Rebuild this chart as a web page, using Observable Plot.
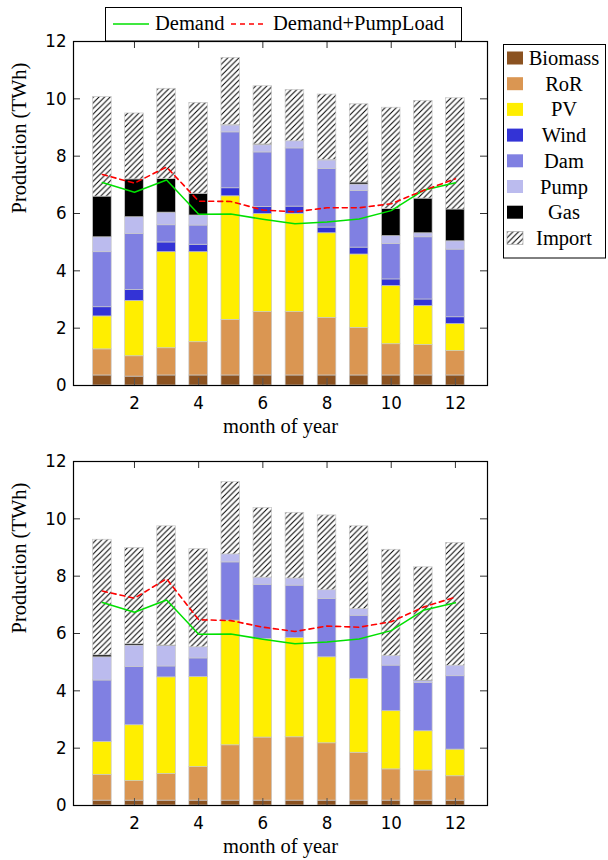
<!DOCTYPE html>
<html>
<head>
<meta charset="utf-8">
<script src="https://cdn.jsdelivr.net/npm/d3@7"></script>
<script src="https://cdn.jsdelivr.net/npm/@observablehq/plot@0.6"></script>
<style>
  html, body { margin: 0; padding: 0; background: white; }
  #wrap { position: relative; width: 608px; height: 860px; }
  #wrap > svg.plotsvg { position: absolute; left: 0; }
  #overlay { position: absolute; left: 0; top: 0; pointer-events: none; }
</style>
</head>
<body>
<div id="wrap"></div>
<script>
// ---------- data ----------
const months = [1, 2, 3, 4, 5, 6, 7, 8, 9, 10, 11, 12];
const sources = ["Biomass", "RoR", "PV", "Wind", "Dam", "Pump", "Gas", "Import"];
const sourceColors = ["#8b5220", "#da9652", "#ffee00", "#3333d6", "#8080e2", "#bbbbee", "#000000", "url(#hatch)"];
const xTicks = [2, 4, 6, 8, 10, 12];
const yTicks = [0, 2, 4, 6, 8, 10, 12];

const demand = [7.08, 6.74, 7.17, 5.97, 5.98, 5.80, 5.64, 5.70, 5.81, 6.10, 6.81, 7.07];

// top panel
const topBiomass = [0.35, 0.31, 0.35, 0.35, 0.35, 0.35, 0.35, 0.35, 0.35, 0.35, 0.35, 0.35];
const topRoR     = [0.91, 0.71, 0.95, 1.16, 1.94, 2.21, 2.21, 2.01, 1.66, 1.09, 1.06, 0.85];
const topPV      = [1.15, 1.93, 3.35, 3.14, 4.31, 3.42, 3.43, 2.95, 2.56, 2.03, 1.36, 0.94];
const topWind    = [0.32, 0.38, 0.34, 0.26, 0.28, 0.25, 0.25, 0.20, 0.24, 0.23, 0.23, 0.24];
const topDam     = [1.92, 1.95, 0.60, 0.67, 1.95, 1.90, 2.03, 2.04, 1.97, 1.24, 2.17, 2.36];
const topPump    = [0.52, 0.59, 0.44, 0.35, 0.24, 0.25, 0.25, 0.30, 0.23, 0.27, 0.14, 0.29];
const topGas     = [1.42, 1.32, 1.17, 0.76, 0.02, 0.03, 0.00, 0.02, 0.07, 0.95, 1.21, 1.11];
const topImport  = [3.47, 2.30, 3.15, 3.17, 2.34, 2.03, 1.79, 2.28, 2.73, 3.53, 3.41, 3.88];
const topPumpLoad = [7.36, 7.06, 7.62, 6.43, 6.42, 6.12, 6.06, 6.20, 6.20, 6.34, 6.80, 7.21];

// bottom panel
const botBiomass = [0.17, 0.17, 0.17, 0.17, 0.17, 0.17, 0.17, 0.17, 0.17, 0.17, 0.17, 0.17];
const botRoR     = [0.90, 0.68, 0.93, 1.17, 1.93, 2.20, 2.21, 2.00, 1.67, 1.09, 1.05, 0.85];
const botPV      = [1.15, 1.95, 3.37, 3.14, 4.35, 3.44, 3.46, 3.00, 2.58, 2.03, 1.37, 0.93];
const botWind    = [0, 0, 0, 0, 0, 0, 0, 0, 0, 0, 0, 0];
const botDam     = [2.14, 2.03, 0.38, 0.65, 2.03, 1.89, 1.83, 2.03, 2.20, 1.59, 1.68, 2.56];
const botPump    = [0.81, 0.75, 0.71, 0.39, 0.28, 0.25, 0.25, 0.31, 0.23, 0.33, 0.07, 0.37];
const botGas     = [0.07, 0.05, 0.02, 0.00, 0.00, 0.00, 0.00, 0.00, 0.00, 0.00, 0.02, 0.00];
const botImport  = [4.03, 3.35, 4.16, 3.42, 2.52, 2.43, 2.29, 2.61, 2.89, 3.71, 3.95, 4.28];
const botPumpLoad = [7.48, 7.23, 7.91, 6.48, 6.45, 6.22, 6.07, 6.26, 6.22, 6.41, 6.92, 7.27];

const topSeries = [topBiomass, topRoR, topPV, topWind, topDam, topPump, topGas, topImport];
const botSeries = [botBiomass, botRoR, botPV, botWind, botDam, botPump, botGas, botImport];

// ---------- build tables ----------
function stackTable(series) {
  const rows = [];
  months.forEach((m, i) => {
    let base = 0;
    sources.forEach((s, k) => {
      const v = series[k][i];
      rows.push({month: m, source: s, y1: base, y2: base + v});
      base += v;
    });
  });
  return rows.filter(r => r.y2 - r.y1 > 0);
}
function lineTable(values) {
  return months.map((m, i) => ({month: m, value: values[i]}));
}

const tickFont = "'DejaVu Sans Condensed', 'DejaVu Sans', sans-serif";
const serif = "'Liberation Serif', 'Times New Roman', serif";
const BW = 0.29; // half bar width in months

function panel(series, pumpLoad, opts) {
  const W = 608, fw = 414, fh = 344;
  return Plot.plot({
    width: W,
    height: opts.height,
    marginTop: opts.marginTop,
    marginBottom: opts.height - opts.marginTop - fh,
    marginLeft: 73,
    marginRight: W - 73 - fw,
    style: {fontFamily: tickFont, fontSize: "18px", color: "black", background: "transparent", overflow: "visible"},
    x: {type: "linear", domain: [0.1, 13], axis: null},
    y: {type: "linear", domain: [0, 12], axis: null},
    color: {type: "ordinal", domain: sources, range: sourceColors},
    marks: [
      Plot.rect(stackTable(series), {
        x1: d => d.month - BW, x2: d => d.month + BW,
        y1: "y1", y2: "y2",
        fill: "source",
        stroke: "#c8c8c8", strokeWidth: 0.7
      }),
      Plot.line(lineTable(demand), {x: "month", y: "value", stroke: "#00e000", strokeWidth: 1.5}),
      Plot.line(lineTable(pumpLoad), {x: "month", y: "value", stroke: "#ff0000", strokeWidth: 1.6, strokeDasharray: "5,4"}),
      // inward ticks
      Plot.tickY(yTicks, {y: d => d, insetRight: fw - 7, stroke: "#333", strokeWidth: 1}),
      Plot.tickY(yTicks, {y: d => d, insetLeft: fw - 7, stroke: "#333", strokeWidth: 1}),
      Plot.tickX(xTicks, {x: d => d, insetTop: fh - 7, stroke: "#555", strokeWidth: 1}),
      Plot.tickX(xTicks, {x: d => d, insetBottom: fh - 7, stroke: "#333", strokeWidth: 1}),
      Plot.frame({stroke: "black", strokeWidth: 1.2}),
      Plot.axisY({ticks: yTicks, tickSize: 0, tickPadding: 7, tickFormat: d => String(d), label: null, fontSize: 18.5, fontFamily: tickFont}),
      Plot.axisX({ticks: xTicks, tickSize: 0, tickPadding: 10, tickFormat: d => String(d), label: null, fontSize: 18.5, fontFamily: tickFont}),
      Plot.text(["month of year"], {frameAnchor: "bottom", dy: 47, text: d => d, fontFamily: serif, fontSize: 20.5, fill: "black"}),
      Plot.text(["Production (TWh)"], {frameAnchor: "left", dx: -54, rotate: -90, text: d => d, fontFamily: serif, fontSize: 20.5, fill: "black"})
    ]
  });
}

const wrap = document.getElementById("wrap");

// hatch pattern definition (shared)
const defsSvg = d3.select(wrap).append("svg")
  .attr("width", 0).attr("height", 0)
  .style("position", "absolute").style("left", 0).style("top", 0);
const HS = 5.6;
const pat = defsSvg.append("defs").append("pattern")
  .attr("id", "hatch").attr("patternUnits", "userSpaceOnUse")
  .attr("width", HS).attr("height", HS);
pat.append("rect").attr("width", HS).attr("height", HS).attr("fill", "white");
pat.append("path").attr("d", `M-1,1 L1,-1 M0,${HS} L${HS},0 M${HS - 1},${HS + 1} L${HS + 1},${HS - 1}`)
  .attr("stroke", "black").attr("stroke-width", 1);

const p1 = panel(topSeries, topPumpLoad, {height: 440, marginTop: 41});
p1.classList.add("plotsvg");
p1.style.top = "0px";
wrap.appendChild(p1);

const p2 = panel(botSeries, botPumpLoad, {height: 420, marginTop: 21});
p2.classList.add("plotsvg");
p2.style.top = "440px";
wrap.appendChild(p2);

// ---------- legends ----------
const ov = d3.select(wrap).append("svg").attr("id", "overlay")
  .attr("width", 608).attr("height", 860);

// top legend
const tl = ov.append("g");
tl.append("rect").attr("x", 105.5).attr("y", 7.5).attr("width", 356).attr("height", 33.5)
  .attr("fill", "white").attr("stroke", "black").attr("stroke-width", 1);
tl.append("line").attr("x1", 113).attr("x2", 149).attr("y1", 24).attr("y2", 24)
  .attr("stroke", "#00e000").attr("stroke-width", 1.5);
tl.append("text").attr("x", 155).attr("y", 30).text("Demand")
  .attr("font-family", serif).attr("font-size", 20.5).attr("fill", "black");
tl.append("line").attr("x1", 231).attr("x2", 264).attr("y1", 24).attr("y2", 24)
  .attr("stroke", "#ff0000").attr("stroke-width", 1.6).attr("stroke-dasharray", "5,4");
tl.append("text").attr("x", 273).attr("y", 30).text("Demand+PumpLoad")
  .attr("font-family", serif).attr("font-size", 20.5).attr("fill", "black");

// right legend
const rl = ov.append("g");
rl.append("rect").attr("x", 503.5).attr("y", 44.5).attr("width", 102).attr("height", 213.5)
  .attr("fill", "white").attr("stroke", "black").attr("stroke-width", 1);
sources.forEach((s, i) => {
  const cy = 58 + 25.7 * i;
  rl.append("rect").attr("x", 507).attr("y", cy - 6.5).attr("width", 16).attr("height", 13)
    .attr("fill", sourceColors[i]).attr("stroke", s === "Import" ? "#aaa" : "none").attr("stroke-width", 0.7);
  rl.append("text").attr("x", 564).attr("y", cy + 7).attr("text-anchor", "middle").text(s)
    .attr("font-family", serif).attr("font-size", 20.5).attr("fill", "black");
});
</script>
</body>
</html>
